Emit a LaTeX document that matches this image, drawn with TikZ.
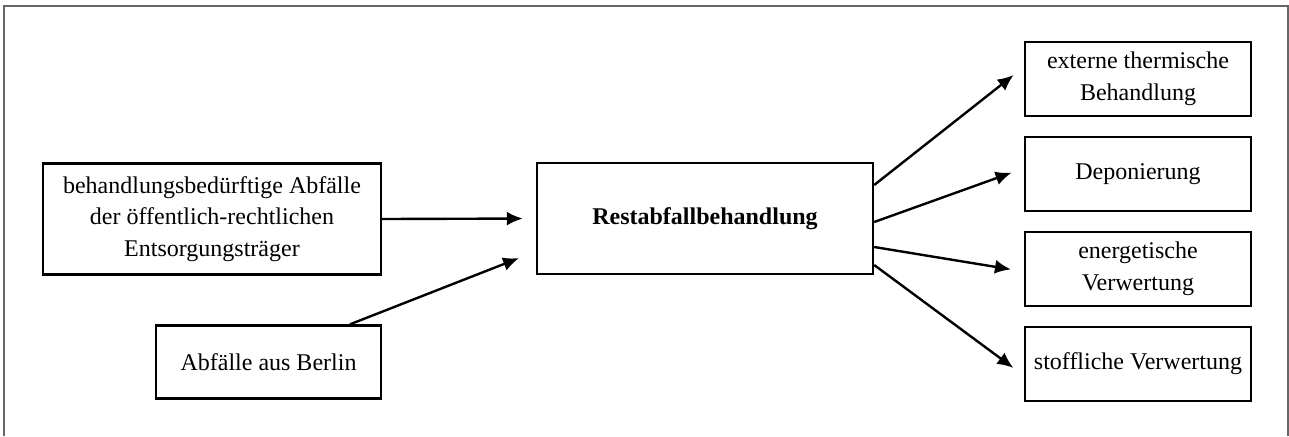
\documentclass[tikz,border=0pt]{standalone}
\usepackage{fontspec}
\setmainfont{Liberation Serif}
\usetikzlibrary{arrows.meta, positioning, calc}

\begin{document}
\begin{tikzpicture}[x=0.5pt, y=-0.5pt,
  box/.style={draw, line width=1.2pt, align=center, inner sep=2pt,
    font=\fontsize{12}{15.75}\selectfont},
  ziel/.style={box, minimum width=113pt, minimum height=37pt},
  pfeil/.style={-{Latex[length=8pt,width=7pt]}, line width=1.2pt, shorten >=6.5pt}]
\useasboundingbox (0,0) rectangle (1289,436);
% Rahmen
\draw[gray!80!black, line width=1pt] (4,436) -- (4,6) -- (1288,6) -- (1288,436);

% Eingaenge
\node[box, minimum width=169pt, minimum height=55.5pt] (abf) at (212,219)
  {behandlungsbedürftige Abfälle\\der öffentlich-rechtlichen\\Entsorgungsträger};
\node[box, minimum width=112.5pt, minimum height=36.5pt] (berlin) at (268.5,362)
  {Abfälle aus Berlin};

% Behandlung
\node[box, minimum width=168pt, minimum height=55.5pt] (rest) at (705,218.5)
  {\bfseries Restabfallbehandlung};

% Ausgaenge
\node[ziel] (r1) at (1138,79) {externe thermische\\Behandlung};
\node[ziel, below=9.3pt of r1] (r2) {Deponierung};
\node[ziel, below=9.3pt of r2] (r3) {energetische\\Verwertung};
\node[ziel, below=9.3pt of r3] (r4) {stoffliche Verwertung};

% Pfeile
\draw[pfeil] (abf.east) -- (rest.west);
\draw[pfeil, shorten >=9pt] ([xshift=40.75pt]berlin.north) -- ([yshift=-16.5pt]rest.west);
\foreach \z/\a/\b in {r1/16.75/6, r2/-1.75/2.85, r3/-14.25/-1.25, r4/-23.25/-5.8}
  \draw[pfeil] ([yshift=\a pt]rest.east) -- ([yshift=\b pt]\z.west);
\end{tikzpicture}
\end{document}
